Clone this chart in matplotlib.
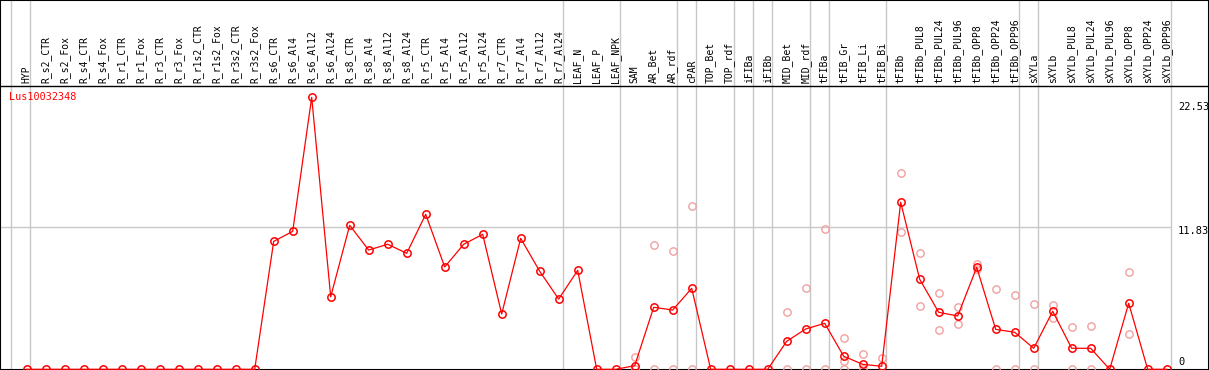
import matplotlib
matplotlib.use("Agg")
import matplotlib.pyplot as plt

# profil d'expression du gene
gene = "Lus10032348"

categories = ["HYP", "R_s2_CTR", "R_s2_Fox", "R_s4_CTR", "R_s4_Fox", "R_r1_CTR", "R_r1_Fox",
              "R_r3_CTR", "R_r3_Fox", "R_r1s2_CTR", "R_r1s2_Fox", "R_r3s2_CTR", "R_r3s2_Fox",
              "R_s6_CTR", "R_s6_Al4", "R_s6_Al12", "R_s6_Al24", "R_s8_CTR", "R_s8_Al4",
              "R_s8_Al12", "R_s8_Al24", "R_r5_CTR", "R_r5_Al4", "R_r5_Al12", "R_r5_Al24",
              "R_r7_CTR", "R_r7_Al4", "R_r7_Al12", "R_r7_Al24", "LEAF_N", "LEAF_P", "LEAF_NPK",
              "SAM", "AR_Bet", "AR_rdf", "cPAR", "TOP_Bet", "TOP_rdf", "iFIBa", "iFIBb",
              "MID_Bet", "MID_rdf", "tFIBa", "tFIB_Gr", "tFIB_Li", "tFIB_Bi", "tFIBb",
              "tFIBb_PUL8", "tFIBb_PUL24", "tFIBb_PUL96", "tFIBb_OPP8", "tFIBb_OPP24",
              "tFIBb_OPP96", "sXYLa", "sXYLb", "sXYLb_PUL8", "sXYLb_PUL24", "sXYLb_PUL96",
              "sXYLb_OPP8", "sXYLb_OPP24", "sXYLb_OPP96"]

moyennes = [0, 0, 0, 0, 0, 0, 0, 0, 0, 0, 0, 0, 0,
            10.60, 11.43, 22.53, 6.01, 11.93, 9.88, 10.36, 9.61,
            12.84, 8.48, 10.36, 11.18, 4.58, 10.85, 8.12, 5.82,
            8.20, 0, 0,
            0.30, 5.14, 4.91, 6.71, 0, 0, 0, 0, 2.32, 3.34,
            3.81, 1.08, 0.41, 0.25,
            13.84, 7.46, 4.72, 4.42, 8.45, 3.31, 3.07,
            1.74, 4.81, 1.74, 1.74, 0, 5.47, 0, 0]

replicats = {
    "SAM": [1.04, 0], "AR_Bet": [10.27, 0], "AR_rdf": [9.80, 0], "cPAR": [13.50, 0],
    "MID_Bet": [4.72, 0], "MID_rdf": [6.71, 0], "tFIBa": [11.60, 0],
    "tFIB_Gr": [2.57, 0.71, 0], "tFIB_Li": [1.27, 0], "tFIB_Bi": [0.91],
    "tFIBb": [16.24, 11.35], "tFIBb_PUL8": [9.61, 5.22], "tFIBb_PUL24": [6.30, 3.23],
    "tFIBb_PUL96": [5.16, 3.75], "tFIBb_OPP8": [8.72, 8.29], "tFIBb_OPP24": [6.63, 0],
    "tFIBb_OPP96": [6.13, 0], "sXYLa": [5.39, 0], "sXYLb": [5.30, 4.23],
    "sXYLb_PUL8": [3.48, 0], "sXYLb_PUL24": [3.56, 0], "sXYLb_OPP8": [8.04, 2.90],
}

# fin de chaque groupe de tissus (index de la derniere categorie)
separations = [-1, 0, 28, 31, 34, 35, 37, 38, 39, 41, 42, 45, 52, 53, 60]
graduations = [0, 11.83, 22.53]

W, H = 1209, 370
px_x, px_y = 19.0, 12.07   # pixels par unite
x0, y0 = 26.7, 0.7         # position du premier point / de la ligne zero
xmin = -x0 / px_x
xmax = xmin + W / px_x
ymin = -y0 / px_y
ymax = ymin + H / px_y
y_sep = ymin + (H - 86) / px_y

fig = plt.figure(figsize=(W / 100, H / 100), dpi=100)
ax = fig.add_axes([0, 0, 1, 1])
ax.set_xlim(xmin, xmax)
ax.set_ylim(ymin, ymax)
ax.set_xticks([])
ax.set_yticks([])
for s in ax.spines.values():
    s.set_linewidth(1.5)
    s.set_color("black")

gris = "#c8c8c8"
fin = separations[-1] + 0.2
for s in separations:
    ax.axvline(s + 0.2, color=gris, lw=1, zorder=1)
ax.hlines(graduations[1], xmin, fin, color=gris, lw=1, zorder=1)
ax.axhline(y_sep, color="black", lw=1, zorder=2)

mono = "DejaVu Sans Mono"
for i, c in enumerate(categories):
    ax.text(i, y_sep + 0.25, c, rotation=90, ha="center", va="bottom",
            fontsize=7, family=mono)

# valeurs de l'axe, a droite
decalages = {0: ("bottom", 2), 11.83: ("center", -3), 22.53: ("top", -3)}
for g in graduations:
    va, dy = decalages[g]
    ax.annotate(f"{g}", (fin, g), xytext=(5.5, dy), textcoords="offset points",
                ha="left", va=va, fontsize=7.5, family=mono)

ax.text(xmin + 9.3 / px_x, 22.56, gene, color="red", ha="left", va="center",
        fontsize=7.3, family=mono)

# replicats
for nom, vals in replicats.items():
    i = categories.index(nom)
    ax.plot([i] * len(vals), vals, "o", mfc="none", mec="#f0a0a0", ms=5.3, mew=1.0, zorder=3)

# moyennes
ax.plot(range(len(categories)), moyennes, "-o", color="red", lw=0.9, mfc="none",
        ms=5.3, mew=1.1, zorder=4)

fig.savefig("out.png", dpi=100)
